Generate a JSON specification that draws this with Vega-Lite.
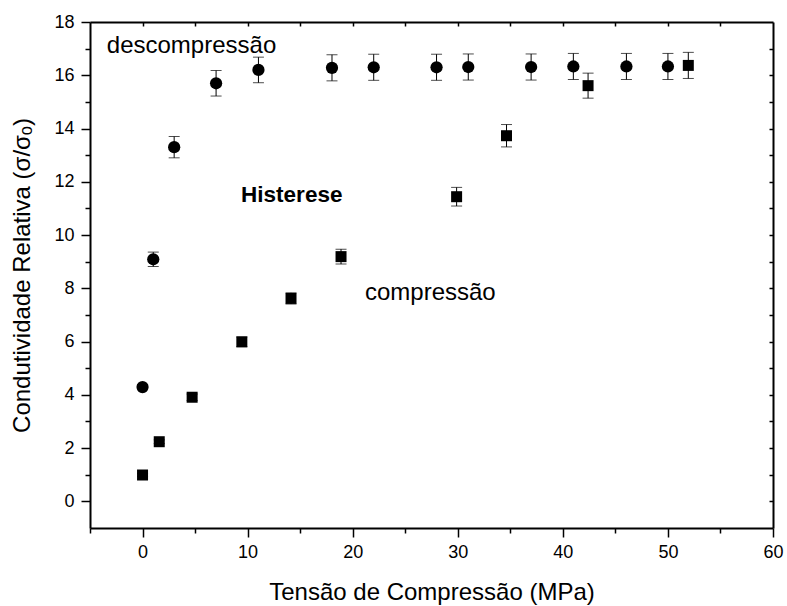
{
  "$schema": "https://vega.github.io/schema/vega-lite/v6.json",
  "width": 683,
  "height": 506,
  "autosize": {"type": "none"},
  "padding": {"left": 90, "top": 22, "right": 14, "bottom": 78},
  "background": "white",
  "config": {
    "view": {"stroke": null},
    "font": "Liberation Sans",
    "axis": {
      "grid": false,
      "domainColor": "black",
      "domainWidth": 2,
      "tickColor": "black",
      "tickWidth": 1.5,
      "labelColor": "black",
      "titleColor": "black",
      "labelFont": "Liberation Sans",
      "titleFont": "Liberation Sans",
      "labelFontSize": 18,
      "titleFontSize": 24,
      "titleFontWeight": "normal",
      "labelFlush": false,
      "labelOverlap": false
    }
  },
  "datasets": {
    "pts": [
      {"series": "descompressão", "x": 0, "y": 4.29, "err": 0.1},
      {"series": "descompressão", "x": 1.02, "y": 9.09, "err": 0.27},
      {"series": "descompressão", "x": 3.01, "y": 13.3, "err": 0.4},
      {"series": "descompressão", "x": 7.0, "y": 15.7, "err": 0.48},
      {"series": "descompressão", "x": 11.03, "y": 16.2, "err": 0.48},
      {"series": "descompressão", "x": 18.03, "y": 16.28, "err": 0.49},
      {"series": "descompressão", "x": 22.0, "y": 16.3, "err": 0.49},
      {"series": "descompressão", "x": 27.98, "y": 16.3, "err": 0.49},
      {"series": "descompressão", "x": 31.0, "y": 16.31, "err": 0.49},
      {"series": "descompressão", "x": 36.98, "y": 16.31, "err": 0.49},
      {"series": "descompressão", "x": 41.0, "y": 16.33, "err": 0.49},
      {"series": "descompressão", "x": 46.05, "y": 16.33, "err": 0.49},
      {"series": "descompressão", "x": 50.0, "y": 16.33, "err": 0.49},
      {"series": "compressão", "x": 0, "y": 0.99, "err": 0.05},
      {"series": "compressão", "x": 1.59, "y": 2.24, "err": 0.07},
      {"series": "compressão", "x": 4.72, "y": 3.91, "err": 0.12},
      {"series": "compressão", "x": 9.45, "y": 5.99, "err": 0.18},
      {"series": "compressão", "x": 14.13, "y": 7.62, "err": 0.21},
      {"series": "compressão", "x": 18.89, "y": 9.19, "err": 0.28},
      {"series": "compressão", "x": 29.89, "y": 11.44, "err": 0.35},
      {"series": "compressão", "x": 34.64, "y": 13.73, "err": 0.42},
      {"series": "compressão", "x": 42.4, "y": 15.61, "err": 0.47},
      {"series": "compressão", "x": 51.94, "y": 16.37, "err": 0.49}
    ],
    "notes": [
      {"x": -3.4, "y": 16.83, "label": "descompressão"},
      {"x": 21.17, "y": 7.56, "label": "compressão"}
    ],
    "boldnotes": [
      {"x": 9.38, "y": 11.25, "label": "Histerese"}
    ]
  },
  "layer": [
    {
      "data": {"name": "pts"},
      "mark": {
        "type": "errorbar",
        "ticks": {"size": 11, "thickness": 1, "color": "black"},
        "rule": {"color": "black", "strokeWidth": 1}
      },
      "encoding": {
        "x": {"field": "x", "type": "quantitative", "scale": {"domain": [-5, 60], "nice": false, "zero": false}, "axis": null},
        "y": {"field": "y", "type": "quantitative", "scale": {"domain": [-1, 18], "nice": false, "zero": false}, "axis": null},
        "yError": {"field": "err"}
      }
    },
    {
      "data": {"name": "pts"},
      "mark": {"type": "point", "filled": true, "color": "black", "opacity": 1, "strokeWidth": 0},
      "encoding": {
        "x": {
          "field": "x", "type": "quantitative",
          "scale": {"domain": [-5, 60], "nice": false, "zero": false},
          "axis": {
            "orient": "bottom",
            "values": [0, 10, 20, 30, 40, 50, 60],
            "tickSize": 9,
            "labelPadding": 6,
            "title": "Tensão de Compressão (MPa)",
            "titlePadding": 19
          }
        },
        "y": {
          "field": "y", "type": "quantitative",
          "scale": {"domain": [-1, 18], "nice": false, "zero": false},
          "axis": {
            "orient": "left",
            "values": [0, 2, 4, 6, 8, 10, 12, 14, 16, 18],
            "tickSize": 9,
            "labelPadding": 7,
            "title": "Condutividade Relativa (σ/σₒ)",
            "titlePadding": 19
          }
        },
        "shape": {"field": "series", "type": "nominal", "scale": {"domain": ["descompressão", "compressão"], "range": ["circle", "square"]}, "legend": null},
        "size": {"field": "series", "type": "ordinal", "scale": {"domain": ["descompressão", "compressão"], "range": [150, 121]}, "legend": null}
      }
    },
    {
      "data": {"name": "notes"},
      "mark": {"type": "text", "align": "left", "baseline": "alphabetic", "fontSize": 24, "font": "Liberation Sans", "color": "black"},
      "encoding": {
        "x": {"field": "x", "type": "quantitative", "scale": {"domain": [-5, 60], "nice": false, "zero": false}, "axis": null},
        "y": {"field": "y", "type": "quantitative", "scale": {"domain": [-1, 18], "nice": false, "zero": false}, "axis": null},
        "text": {"field": "label"}
      }
    },
    {
      "data": {"name": "boldnotes"},
      "mark": {"type": "text", "align": "left", "baseline": "alphabetic", "fontSize": 22.5, "fontWeight": "bold", "font": "Liberation Sans", "color": "black"},
      "encoding": {
        "x": {"field": "x", "type": "quantitative", "scale": {"domain": [-5, 60], "nice": false, "zero": false}, "axis": null},
        "y": {"field": "y", "type": "quantitative", "scale": {"domain": [-1, 18], "nice": false, "zero": false}, "axis": null},
        "text": {"field": "label"}
      }
    },
    {
      "data": {"name": "pts"},
      "mark": {"type": "point", "opacity": 0},
      "encoding": {
        "x": {
          "field": "x", "type": "quantitative",
          "scale": {"domain": [-5, 60], "nice": false, "zero": false},
          "axis": {"orient": "bottom", "values": [-5, 5, 15, 25, 35, 45, 55], "tickSize": 5, "labels": false, "title": null, "domain": false}
        },
        "y": {
          "field": "y", "type": "quantitative",
          "scale": {"domain": [-1, 18], "nice": false, "zero": false},
          "axis": {"orient": "left", "values": [1, 3, 5, 7, 9, 11, 13, 15, 17], "tickSize": 5, "labels": false, "title": null, "domain": false}
        }
      }
    },
    {
      "data": {"name": "pts"},
      "mark": {"type": "point", "opacity": 0},
      "encoding": {
        "x": {
          "field": "x", "type": "quantitative",
          "scale": {"domain": [-5, 60], "nice": false, "zero": false},
          "axis": {"orient": "top", "values": [0, 5, 10, 15, 20, 25, 30, 35, 40, 45, 50, 55], "tickSize": -4, "labels": false, "title": null}
        },
        "y": {
          "field": "y", "type": "quantitative",
          "scale": {"domain": [-1, 18], "nice": false, "zero": false},
          "axis": {"orient": "right", "values": [0, 1, 2, 3, 4, 5, 6, 7, 8, 9, 10, 11, 12, 13, 14, 15, 16, 17], "tickSize": -4, "labels": false, "title": null}
        }
      }
    }
  ],
  "resolve": {
    "scale": {"x": "independent", "y": "independent"},
    "axis": {"x": "independent", "y": "independent"}
  }
}
